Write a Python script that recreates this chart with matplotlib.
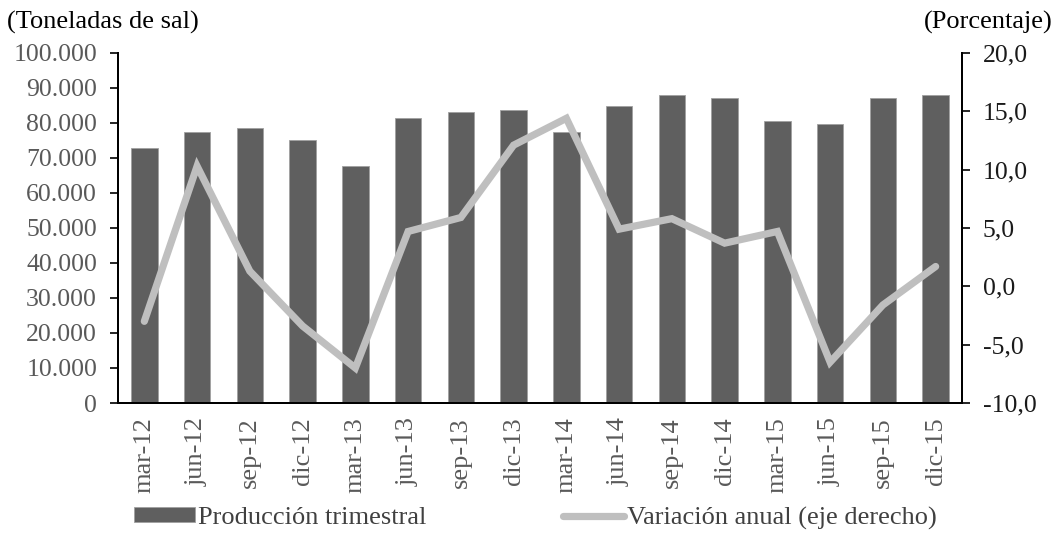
import numpy as np
import matplotlib
matplotlib.use("Agg")
import matplotlib.pyplot as plt
from matplotlib.ticker import FixedLocator, FuncFormatter

# datos
periodos = ["mar-12", "jun-12", "sep-12", "dic-12", "mar-13", "jun-13", "sep-13", "dic-13",
            "mar-14", "jun-14", "sep-14", "dic-14", "mar-15", "jun-15", "sep-15", "dic-15"]
produccion = [72800, 77400, 78500, 75100, 67600, 81400, 83100, 83600,
              77300, 84800, 88100, 87000, 80700, 79600, 87000, 88100]
variacion = [-3.0, 10.3, 1.3, -3.4, -7.0, 4.7, 5.9, 12.1,
             14.4, 4.9, 5.8, 3.7, 4.7, -6.5, -1.6, 1.7]

plt.rcParams["font.family"] = ["Liberation Serif", "DejaVu Serif"]

bar_color = "#5f5f5f"
line_color = "#bfbfbf"
label_gray = "#595959"

fig = plt.figure(figsize=(10.56, 5.33), dpi=100)
ax = fig.add_axes([0.1117, 0.2439, 0.7993, 0.6567])
ax2 = ax.twinx()

x = np.arange(len(periodos))
bars = ax.bar(x, produccion, width=0.5, color=bar_color, edgecolor="#a0a0a0",
              linewidth=0.6, label="Producción trimestral", zorder=2)
line, = ax2.plot(x, variacion, color=line_color, linewidth=5.2,
                 solid_capstyle="round", solid_joinstyle="miter",
                 label="Variación anual (eje derecho)", zorder=3)

ax.set_xlim(-0.5, len(periodos) - 0.5)
ax.set_ylim(0, 100000)
ax2.set_ylim(-10, 20)

ax.yaxis.set_major_locator(FixedLocator(np.arange(0, 100001, 10000)))
ax.yaxis.set_major_formatter(FuncFormatter(lambda v, p: f"{int(v):,}".replace(",", ".")))
ax2.yaxis.set_major_locator(FixedLocator(np.arange(-10, 21, 5)))
ax2.yaxis.set_major_formatter(FuncFormatter(lambda v, p: f"{v:.1f}".replace(".", ",")))

ax.set_xticks(x)
ax.set_xticklabels(periodos, rotation=90, fontsize=19, color=label_gray)
ax.tick_params(axis="x", length=0, pad=10)
ax.tick_params(axis="y", direction="out", length=6, width=1.2, labelsize=18.5,
               labelcolor=label_gray, pad=9)
ax2.tick_params(axis="y", direction="out", length=6, width=1.2, labelsize=18.5,
                labelcolor="#1a1a1a", pad=9)

for a in (ax, ax2):
    a.spines["top"].set_visible(False)
    for s in ("left", "right", "bottom"):
        a.spines[s].set_linewidth(1.4)
        a.spines[s].set_color("black")

fig.text(0.007, 0.958, "(Toneladas de sal)", fontsize=19, ha="left", va="center", color="black")
fig.text(0.997, 0.958, "(Porcentaje)", fontsize=19, ha="right", va="center", color="black")

fig.legend(handles=[bars, line], loc="center", bbox_to_anchor=(0.507, 0.028), ncol=2,
           frameon=False, fontsize=19, handlelength=2.3, handleheight=0.5,
           handletextpad=0.1, columnspacing=5.2, labelcolor="#404040", borderaxespad=0)

fig.savefig("out.png", dpi=100)
